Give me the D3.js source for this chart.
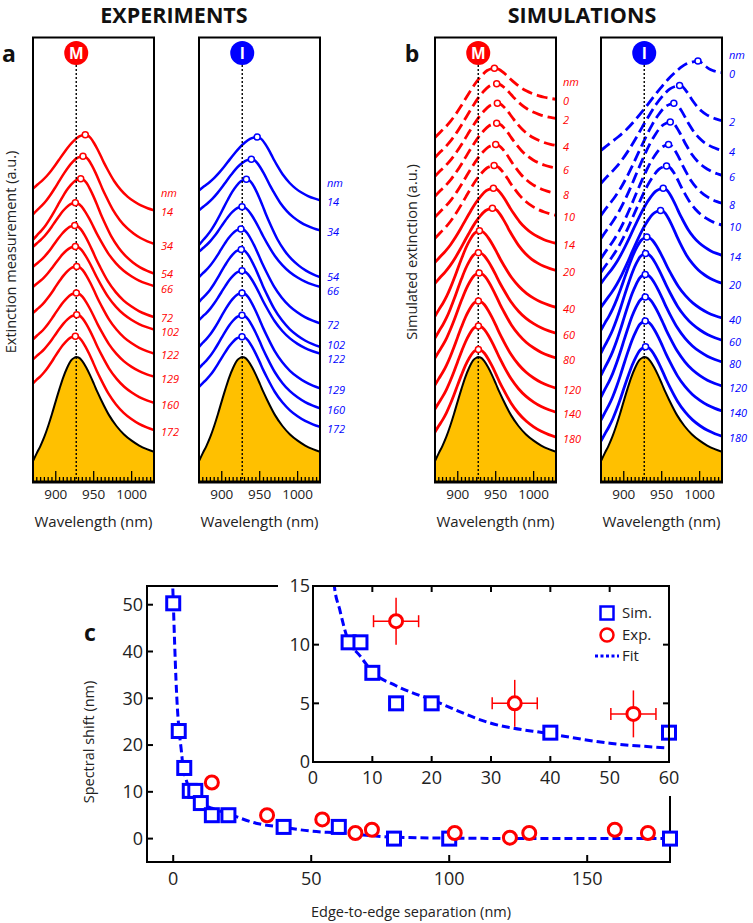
<!DOCTYPE html>
<html><head><meta charset="utf-8">
<script src="https://cdn.jsdelivr.net/npm/d3@7"></script>
<style>body{margin:0;background:#fff} svg{display:block;font-family:'Open Sans',sans-serif}</style>
</head><body><svg id="c" width="753" height="923"></svg>
<script>
// ---------------- DATA ----------------
// Reference (isolated particle) spectrum, a.u. (box height = 100)
const goldWl  = [870, 875, 880, 885, 890, 895, 900, 905, 910, 915, 920, 924, 927, 930, 935, 940, 945, 950, 955, 960, 970, 980, 990, 1000, 1010, 1020, 1029.5];
const goldVal = [4.7, 6.5, 8.2, 10.2, 12.6, 15.3, 18.2, 21.0, 23.6, 25.7, 27.3, 27.9, 28.1, 28.0, 27.2, 25.8, 24.1, 22.2, 20.2, 18.4, 15.1, 12.6, 10.7, 9.3, 8.2, 7.4, 6.8];
const resonanceWl = 927;
const wavelengthTicks = [900, 950, 1000];

// Experiments: separations (nm)
const expLabels = [14, 34, 54, 66, 72, 102, 122, 129, 160, 172];
// M experiment spectra: peak wavelength, peak level, level at 870 nm, level at 1030 nm
const expMPeakWl = [938.9, 935.9, 932.9, 925.8, 925.0, 925.8, 927.6, 927.1, 927.6, 925.8];
const expMPeak   = [78.1, 73.3, 68.2, 62.8, 57.7, 53.0, 48.5, 42.5, 37.6, 32.8];
const expMLeft   = [66.0, 60.2, 54.5, 52.9, 48.4, 43.9, 38.0, 32.1, 27.6, 22.2];
const expMRight  = [61.1, 53.6, 46.9, 44.1, 37.1, 34.3, 28.9, 23.7, 17.8, 11.7];
// I experiment spectra
const expIPeakWl = [946.7, 939.0, 932.4, 926.7, 925.3, 925.7, 926.7, 926.7, 926.7, 926.7];
const expIPeak   = [77.6, 72.6, 68.1, 61.9, 56.9, 52.3, 47.5, 42.5, 37.5, 32.7];
const expILeft   = [65.6, 61.1, 53.3, 51.8, 46.1, 40.5, 36.4, 30.4, 25.6, 21.4];
const expIRight  = [63.4, 56.6, 46.1, 43.9, 35.7, 30.4, 28.9, 21.1, 16.6, 12.4];

// Simulations: separations (nm)
const simLabels = [0, 2, 4, 6, 8, 10, 14, 20, 40, 60, 80, 120, 140, 180];
const simMPeakWl = [948.3, 951.3, 952.2, 951.3, 950.0, 947.9, 947.0, 945.7, 928.6, 927.2, 928.2, 927.2, 927.2, 927.2];
const simMPeak   = [93.1, 89.6, 85.2, 80.7, 75.9, 71.2, 66.1, 61.6, 56.5, 51.6, 47.0, 40.7, 35.1, 29.8];
const simMLeft   = [77.5, 73.0, 68.8, 64.3, 59.6, 54.8, 49.4, 44.7, 37.3, 32.4, 27.9, 21.8, 16.4, 11.2];
const simMRight  = [86.1, 81.8, 75.7, 70.6, 64.9, 60.0, 53.7, 47.6, 39.3, 33.5, 27.9, 21.1, 15.7, 10.1];
const simIPeakWl = [997.8, 973.6, 966.0, 961.3, 959.0, 956.4, 952.0, 948.5, 930.4, 928.7, 928.3, 928.3, 928.3, 928.7];
const simIPeak   = [94.7, 89.2, 85.2, 81.0, 75.9, 71.1, 66.1, 61.1, 55.1, 51.4, 46.7, 41.6, 36.2, 30.4];
const simILeft   = [74.6, 67.2, 60.0, 54.8, 50.3, 47.2, 44.7, 39.3, 34.2, 29.0, 24.0, 19.1, 13.9, 9.2];
const simIRight  = [92.1, 81.3, 74.6, 69.0, 62.7, 57.8, 51.0, 44.7, 36.9, 31.9, 27.0, 21.6, 16.0, 10.3];

// Panel c
const simSep   = [0, 2, 4, 6, 8, 10, 14, 20, 40, 60, 80, 100, 180];
const simShift = [50.3, 23, 15.1, 10.2, 10.2, 7.6, 5, 5, 2.5, 2.5, 0, 0, 0];
const expSep   = [14, 34, 54, 66, 72, 102, 122, 129, 160, 172];
const expShift = [12, 5, 4.1, 1.2, 1.9, 1.2, 0.2, 1.2, 1.9, 1.2];
const expErrSep = 3.8, expErrShift = 2;
const fitX = [-0.3, 0, 0.5, 1, 1.5, 2, 3, 3.6, 4.5, 5.7, 8, 10, 14, 20, 30, 40, 50, 60, 70, 80, 100, 140, 180];
const fitY = [56, 51, 42, 34, 28, 24, 18.5, 15, 13, 10.7, 9, 7.7, 6.5, 5.3, 3.3, 2.4, 1.6, 1.2, 0.7, 0.3, 0.1, 0, 0];
const mainXTicks = [0, 50, 100, 150];
const mainYTicks = [0, 10, 20, 30, 40, 50];
const insetXTicks = [0, 10, 20, 30, 40, 50, 60];
const insetYTicks = [0, 5, 10, 15];

// ---------------- DRAW ----------------
const RED = '#ff0000', BLUE = '#0000ff', GOLD = '#ffc000';
const svg = d3.select('#c');
const BOX_TOP = 37.5, BOX_BOTTOM = 482, BOX_W = 121;
const yAU = d3.scaleLinear().domain([0, 100]).range([BOX_BOTTOM, BOX_TOP]);

const gMin = goldVal[0], gMax = d3.max(goldVal), gEnd = goldVal[goldVal.length - 1];
const WL0 = goldWl[0], WL1 = goldWl[goldWl.length - 1];
function spectrum(pWl, pV, lV, rV) {
  return goldWl.map((w, i) => {
    if (w <= resonanceWl) {
      const u = (w - WL0) / (resonanceWl - WL0);
      const g = (goldVal[i] - gMin) / (gMax - gMin);
      return [WL0 + u * (pWl - WL0), lV + (pV - lV) * g];
    } else {
      const v = (WL1 - w) / (WL1 - resonanceWl);
      const g = (goldVal[i] - gEnd) / (gMax - gEnd);
      return [WL1 - v * (WL1 - pWl), rV + (pV - rV) * g];
    }
  });
}
function spread(ys, gap) {
  const out = ys.slice();
  for (let it = 0; it < 80; it++) {
    for (let i = 1; i < out.length; i++) {
      const d = out[i] - out[i - 1];
      if (d < gap) { const m = (gap - d) / 2; out[i - 1] -= m; out[i] += m; }
    }
  }
  return out;
}

const panels = [
  {left: 33,  color: RED,  badge: 'M', labels: expLabels, pw: expMPeakWl, pv: expMPeak, lv: expMLeft, rv: expMRight, sim: false},
  {left: 199, color: BLUE, badge: 'I', labels: expLabels, pw: expIPeakWl, pv: expIPeak, lv: expILeft, rv: expIRight, sim: false},
  {left: 435, color: RED,  badge: 'M', labels: simLabels, pw: simMPeakWl, pv: simMPeak, lv: simMLeft, rv: simMRight, sim: true},
  {left: 601, color: BLUE, badge: 'I', labels: simLabels, pw: simIPeakWl, pv: simIPeak, lv: simILeft, rv: simIRight, sim: true}
];

panels.forEach((p, pi) => {
  const x = d3.scaleLinear().domain([WL0, WL1]).range([p.left, p.left + BOX_W]);
  const g = svg.append('g');
  const clipId = 'clip' + pi;
  svg.append('clipPath').attr('id', clipId).append('rect')
    .attr('x', p.left).attr('y', BOX_TOP).attr('width', BOX_W).attr('height', BOX_BOTTOM - BOX_TOP);
  const gc = g.append('g').attr('clip-path', `url(#${clipId})`);
  const goldPts = goldWl.map((w, i) => [w, goldVal[i]]);
  gc.append('path').datum(goldPts)
    .attr('d', d3.area().x(d => x(d[0])).y0(BOX_BOTTOM).y1(d => yAU(d[1])).curve(d3.curveMonotoneX))
    .attr('fill', GOLD);
  gc.append('path').datum(goldPts)
    .attr('d', d3.line().x(d => x(d[0])).y(d => yAU(d[1])).curve(d3.curveMonotoneX))
    .attr('fill', 'none').attr('stroke', '#000').attr('stroke-width', 2);
  g.append('line').attr('x1', x(resonanceWl)).attr('x2', x(resonanceWl))
    .attr('y1', 65).attr('y2', BOX_BOTTOM)
    .attr('stroke', '#000').attr('stroke-width', 1.4).attr('stroke-dasharray', '2,2');
  const line = d3.line().x(d => x(d[0])).y(d => yAU(d[1])).curve(d3.curveMonotoneX);
  p.labels.forEach((lab, i) => {
    const pts = spectrum(p.pw[i], p.pv[i], p.lv[i], p.rv[i]);
    gc.append('path').datum(pts).attr('d', line)
      .attr('fill', 'none').attr('stroke', p.color)
      .attr('stroke-width', p.sim ? 2.8 : 2.5)
      .attr('stroke-linejoin', 'round')
      .attr('stroke-dasharray', (p.sim && lab <= 10) ? '11,5' : null);
  });
  p.labels.forEach((lab, i) => {
    g.append('circle').attr('cx', x(p.pw[i])).attr('cy', yAU(p.pv[i])).attr('r', 3)
      .attr('fill', '#fff').attr('stroke', p.color).attr('stroke-width', 1.5);
  });
  const right = p.left + BOX_W;
  const ly = spread(p.rv.map(v => yAU(v) + 2), 14.5);
  p.labels.forEach((lab, i) => {
    g.append('text').attr('x', right + 7).attr('y', ly[i]).attr('dy', '0.35em')
      .attr('fill', p.color).attr('font-style', 'italic').attr('font-size', 11).text(lab);
  });
  g.append('text').attr('x', right + 7).attr('y', ly[0] - 19.5).attr('dy', '0.35em')
    .attr('fill', p.color).attr('font-style', 'italic').attr('font-size', 11).text('nm');
  g.append('rect').attr('x', p.left).attr('y', BOX_TOP).attr('width', BOX_W).attr('height', BOX_BOTTOM - BOX_TOP)
    .attr('fill', 'none').attr('stroke', '#000').attr('stroke-width', 2);
  g.append('line').attr('x1', p.left - 1).attr('x2', right + 1).attr('y1', BOX_BOTTOM).attr('y2', BOX_BOTTOM)
    .attr('stroke', '#000').attr('stroke-width', 3);
  const minor = d3.range(875, 1029, 5);
  g.selectAll(null).data(minor).enter().append('line')
    .attr('x1', d => x(d)).attr('x2', d => x(d))
    .attr('y1', BOX_BOTTOM).attr('y2', d => BOX_BOTTOM - (wavelengthTicks.includes(d) ? 11 : 5))
    .attr('stroke', '#000').attr('stroke-width', 1.3);
  g.selectAll(null).data(wavelengthTicks).enter().append('text')
    .attr('x', d => x(d)).attr('y', 499).attr('text-anchor', 'middle')
    .attr('font-size', 13.5).attr('fill', '#222').text(d => d);
  g.append('text').attr('x', p.left + BOX_W / 2).attr('y', 527).attr('text-anchor', 'middle')
    .attr('font-size', 15).attr('fill', '#222').text('Wavelength (nm)');
  g.append('circle').attr('cx', x(resonanceWl)).attr('cy', 53).attr('r', 12).attr('fill', p.color);
  g.append('text').attr('x', x(resonanceWl)).attr('y', 53).attr('dy', '0.36em').attr('text-anchor', 'middle')
    .attr('fill', '#fff').attr('font-weight', 'bold').attr('font-size', 15.5).text(p.badge);
});

svg.append('text').attr('x', 174).attr('y', 23).attr('text-anchor', 'middle').attr('font-weight', 'bold')
  .attr('font-size', 21.5).attr('fill', '#111').text('EXPERIMENTS');
svg.append('text').attr('x', 582).attr('y', 23).attr('text-anchor', 'middle').attr('font-weight', 'bold')
  .attr('font-size', 21.5).attr('fill', '#111').text('SIMULATIONS');
svg.append('text').attr('x', 9).attr('y', 62).attr('text-anchor', 'middle').attr('font-weight', 'bold')
  .attr('font-size', 23).attr('fill', '#111').text('a');
svg.append('text').attr('x', 412).attr('y', 62).attr('text-anchor', 'middle').attr('font-weight', 'bold')
  .attr('font-size', 23).attr('fill', '#111').text('b');
svg.append('text').attr('transform', 'translate(16,252) rotate(-90)').attr('text-anchor', 'middle')
  .attr('font-size', 14.5).attr('fill', '#222').text('Extinction measurement (a.u.)');
svg.append('text').attr('transform', 'translate(417,252) rotate(-90)').attr('text-anchor', 'middle')
  .attr('font-size', 14.5).attr('fill', '#222').text('Simulated extinction (a.u.)');

// ---------------- PANEL C ----------------
const M = {l: 147, r: 670, t: 586, b: 862};
const xm = d3.scaleLinear().domain([-9.5, 180]).range([M.l, M.r]);
const ym = d3.scaleLinear().domain([-5, 54]).range([M.b, M.t]);
const gm = svg.append('g');
svg.append('clipPath').attr('id', 'clipMain').append('rect')
  .attr('x', M.l).attr('y', M.t).attr('width', M.r - M.l).attr('height', M.b - M.t);

function drawSeries(g, xs, ys, clip, xf, yf) {
  const fitPts = fitX.map((v, i) => [v, fitY[i]]).filter(d => xf(d[0]));
  g.append('path').datum(fitPts).attr('clip-path', clip)
    .attr('d', d3.line().x(d => xs(d[0])).y(d => ys(d[1])).curve(d3.curveMonotoneX))
    .attr('fill', 'none').attr('stroke', BLUE).attr('stroke-width', 3).attr('stroke-dasharray', '8,4');
  const sims = simSep.map((v, i) => [v, simShift[i]]).filter(d => xf(d[0]) && yf(d[1]));
  g.selectAll(null).data(sims).enter().append('rect')
    .attr('x', d => xs(d[0]) - 6.5).attr('y', d => ys(d[1]) - 6.5).attr('width', 13).attr('height', 13)
    .attr('fill', '#fff').attr('stroke', BLUE).attr('stroke-width', 3);
}

gm.append('rect').attr('x', M.l).attr('y', M.t).attr('width', M.r - M.l).attr('height', M.b - M.t)
  .attr('fill', 'none').attr('stroke', '#000').attr('stroke-width', 2);
drawSeries(gm, xm, ym, 'url(#clipMain)', () => true, () => true);
gm.selectAll(null).data(expSep.map((v, i) => [v, expShift[i]])).enter().append('circle')
  .attr('cx', d => xm(d[0])).attr('cy', d => ym(d[1])).attr('r', 6.5)
  .attr('fill', '#fff').attr('stroke', RED).attr('stroke-width', 3);
gm.selectAll(null).data(mainYTicks).enter().append('line')
  .attr('x1', M.l).attr('x2', M.l + 6).attr('y1', d => ym(d)).attr('y2', d => ym(d))
  .attr('stroke', '#000').attr('stroke-width', 2);
gm.selectAll(null).data(mainYTicks).enter().append('text')
  .attr('x', M.l - 4).attr('y', d => ym(d)).attr('dy', '0.35em').attr('text-anchor', 'end')
  .attr('font-size', 18).attr('fill', '#222').text(d => d);
gm.selectAll(null).data(mainXTicks).enter().append('line')
  .attr('x1', d => xm(d)).attr('x2', d => xm(d)).attr('y1', M.b).attr('y2', M.b - 7)
  .attr('stroke', '#000').attr('stroke-width', 2);
gm.selectAll(null).data(mainXTicks).enter().append('text')
  .attr('x', d => xm(d)).attr('y', M.b + 17).attr('dy', '0.35em').attr('text-anchor', 'middle')
  .attr('font-size', 18).attr('fill', '#222').text(d => d);
svg.append('text').attr('transform', 'translate(94,742) rotate(-90)').attr('text-anchor', 'middle')
  .attr('font-size', 14.5).attr('fill', '#222').text('Spectral shift (nm)');
svg.append('text').attr('x', 411).attr('y', 917).attr('text-anchor', 'middle')
  .attr('font-size', 14.5).attr('fill', '#222').text('Edge-to-edge separation (nm)');
svg.append('text').attr('x', 90).attr('y', 641).attr('text-anchor', 'middle').attr('font-weight', 'bold')
  .attr('font-size', 23).attr('fill', '#111').text('c');

// ---------------- INSET ----------------
const I = {l: 313, r: 669, t: 586, b: 762};
svg.append('rect').attr('x', 278).attr('y', 570).attr('width', 415).attr('height', 226).attr('fill', '#fff');
const xi = d3.scaleLinear().domain([0, 60]).range([I.l, I.r]);
const yi = d3.scaleLinear().domain([0, 15]).range([I.b, I.t]);
const gi = svg.append('g');
svg.append('clipPath').attr('id', 'clipIn').append('rect')
  .attr('x', I.l).attr('y', I.t).attr('width', I.r - I.l).attr('height', I.b - I.t);
drawSeries(gi, xi, yi, 'url(#clipIn)', d => d >= 0 && d <= 60, d => d <= 15);
const expIn = expSep.map((v, i) => [v, expShift[i]]).filter(d => d[0] <= 60);
expIn.forEach(d => {
  gi.append('line').attr('x1', xi(d[0] - expErrSep)).attr('x2', xi(d[0] + expErrSep))
    .attr('y1', yi(d[1])).attr('y2', yi(d[1])).attr('stroke', RED).attr('stroke-width', 1.5);
  [d[0] - expErrSep, d[0] + expErrSep].forEach(e => gi.append('line')
    .attr('x1', xi(e)).attr('x2', xi(e)).attr('y1', yi(d[1]) - 6).attr('y2', yi(d[1]) + 6)
    .attr('stroke', RED).attr('stroke-width', 1.5));
  gi.append('line').attr('x1', xi(d[0])).attr('x2', xi(d[0]))
    .attr('y1', yi(d[1] - expErrShift)).attr('y2', yi(d[1] + expErrShift)).attr('stroke', RED).attr('stroke-width', 1.5);
});
gi.selectAll(null).data(expIn).enter().append('circle')
  .attr('cx', d => xi(d[0])).attr('cy', d => yi(d[1])).attr('r', 6.5)
  .attr('fill', '#fff').attr('stroke', RED).attr('stroke-width', 3);
gi.append('rect').attr('x', I.l).attr('y', I.t).attr('width', I.r - I.l).attr('height', I.b - I.t)
  .attr('fill', 'none').attr('stroke', '#000').attr('stroke-width', 2);
const innerX = insetXTicks.slice(1, -1), innerY = insetYTicks.slice(1, -1);
innerX.forEach(t => {
  gi.append('line').attr('x1', xi(t)).attr('x2', xi(t)).attr('y1', I.b).attr('y2', I.b - 6).attr('stroke', '#000').attr('stroke-width', 2);
  gi.append('line').attr('x1', xi(t)).attr('x2', xi(t)).attr('y1', I.t).attr('y2', I.t + 6).attr('stroke', '#000').attr('stroke-width', 2);
});
innerY.forEach(t => {
  gi.append('line').attr('x1', I.l).attr('x2', I.l + 6).attr('y1', yi(t)).attr('y2', yi(t)).attr('stroke', '#000').attr('stroke-width', 2);
  gi.append('line').attr('x1', I.r).attr('x2', I.r - 6).attr('y1', yi(t)).attr('y2', yi(t)).attr('stroke', '#000').attr('stroke-width', 2);
});
gi.selectAll(null).data(insetXTicks).enter().append('text')
  .attr('x', d => xi(d)).attr('y', I.b + 16).attr('dy', '0.35em').attr('text-anchor', 'middle')
  .attr('font-size', 18).attr('fill', '#222').text(d => d);
gi.selectAll(null).data(insetYTicks).enter().append('text')
  .attr('x', I.l - 3).attr('y', d => yi(d)).attr('dy', '0.35em').attr('text-anchor', 'end')
  .attr('font-size', 18).attr('fill', '#222').text(d => d);
const lg = svg.append('g');
lg.append('rect').attr('x', 607 - 6.5).attr('y', 613 - 6.5).attr('width', 13).attr('height', 13)
  .attr('fill', '#fff').attr('stroke', BLUE).attr('stroke-width', 2.5);
lg.append('circle').attr('cx', 607).attr('cy', 635).attr('r', 6.5)
  .attr('fill', '#fff').attr('stroke', RED).attr('stroke-width', 2.5);
lg.append('line').attr('x1', 595).attr('x2', 619).attr('y1', 656).attr('y2', 656)
  .attr('stroke', BLUE).attr('stroke-width', 3).attr('stroke-dasharray', '3,2.5');
[['Sim.', 613], ['Exp.', 635], ['Fit', 656]].forEach(([t, yy]) => lg.append('text')
  .attr('x', 622).attr('y', yy).attr('dy', '0.35em').attr('font-size', 15).attr('fill', '#222').text(t));
</script></body></html>
